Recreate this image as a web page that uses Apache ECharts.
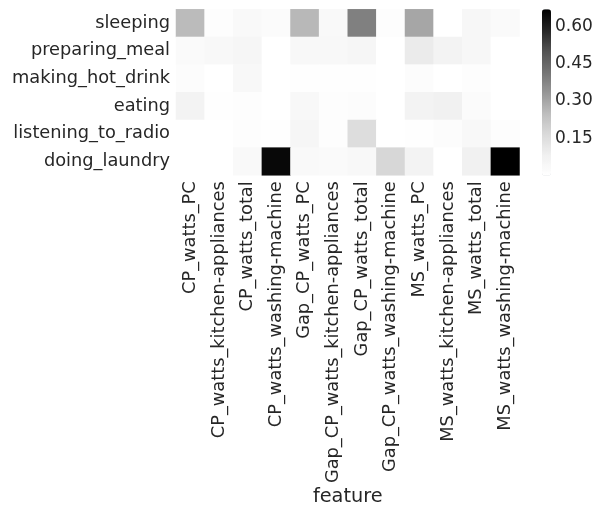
<!DOCTYPE html>
<html>
<head>
<meta charset="utf-8">
<script src="https://cdn.jsdelivr.net/npm/echarts@6/dist/echarts.min.js"></script>
<style>
  html, body { margin: 0; padding: 0; background: #ffffff; }
  #chart { width: 597px; height: 507px; }
</style>
</head>
<body>
<div id="chart"></div>
<script>
// Activities (rows, top to bottom) and sensor features (columns, left to right)
const activities = ['sleeping', 'preparing_meal', 'making_hot_drink', 'eating', 'listening_to_radio', 'doing_laundry'];
const features = [
  'CP_watts_PC', 'CP_watts_kitchen-appliances', 'CP_watts_total', 'CP_watts_washing-machine',
  'Gap_CP_watts_PC', 'Gap_CP_watts_kitchen-appliances', 'Gap_CP_watts_total', 'Gap_CP_watts_washing-machine',
  'MS_watts_PC', 'MS_watts_kitchen-appliances', 'MS_watts_total', 'MS_watts_washing-machine'
];

// One row of scores per activity, in feature order
const sleeping         = [0.255, 0.011, 0.034, 0.022, 0.261, 0.034, 0.387, 0.011, 0.300, 0.000, 0.045, 0.028];
const preparingMeal    = [0.028, 0.039, 0.050, 0.000, 0.039, 0.039, 0.050, 0.000, 0.102, 0.067, 0.045, 0.000];
const makingHotDrink   = [0.017, 0.000, 0.039, 0.000, 0.006, 0.006, 0.006, 0.000, 0.017, 0.000, 0.011, 0.000];
const eating           = [0.067, 0.006, 0.011, 0.000, 0.039, 0.011, 0.017, 0.000, 0.067, 0.078, 0.022, 0.000];
const listeningToRadio = [0.000, 0.000, 0.011, 0.006, 0.050, 0.011, 0.152, 0.000, 0.006, 0.017, 0.039, 0.011];
const doingLaundry     = [0.000, 0.000, 0.034, 0.650, 0.034, 0.028, 0.039, 0.173, 0.067, 0.000, 0.078, 0.668];

const rows = [sleeping, preparingMeal, makingHotDrink, eating, listeningToRadio, doingLaundry];

// Colour scale range and colourbar ticks
const scaleMin = 0;
const scaleMax = 0.668;
const barTicks = [0.15, 0.30, 0.45, 0.60];
const greys = ['#ffffff', '#f0f0f0', '#d9d9d9', '#bdbdbd', '#969696', '#737373', '#525252', '#252525', '#000000'];

const cells = [];
rows.forEach((vals, r) => {
  vals.forEach((v, c) => cells.push([c, r, v]));
});

const textColor = '#262626';
const font = 'DejaVu Sans';

const chart = echarts.init(document.getElementById('chart'), null, { renderer: 'canvas' });

chart.setOption({
  backgroundColor: '#ffffff',
  animation: false,
  grid: [
    { left: 176, top: 9.3, width: 343.5, height: 166.4, containLabel: false },
    { left: 542, top: 9.3, width: 9, height: 166.4, containLabel: false }
  ],
  xAxis: [
    {
      type: 'category',
      gridIndex: 0,
      data: features,
      position: 'bottom',
      axisLine: { show: false },
      axisTick: { show: false },
      splitLine: { show: false },
      axisLabel: {
        interval: 0,
        rotate: 90,
        margin: 6,
        color: textColor,
        fontFamily: font,
        fontSize: 17.8
      },
      name: 'feature',
      nameLocation: 'middle',
      nameGap: 311,
      nameTextStyle: { color: textColor, fontFamily: font, fontSize: 19.3 }
    },
    {
      type: 'category',
      gridIndex: 1,
      data: [''],
      show: false
    }
  ],
  yAxis: [
    {
      type: 'category',
      gridIndex: 0,
      data: activities,
      inverse: true,
      axisLine: { show: false },
      axisTick: { show: false },
      splitLine: { show: false },
      axisLabel: {
        interval: 0,
        margin: 6,
        color: textColor,
        fontFamily: font,
        fontSize: 17.8
      }
    },
    {
      type: 'value',
      gridIndex: 1,
      position: 'right',
      min: scaleMin,
      max: scaleMax,
      interval: 0.15,
      axisLine: { show: false },
      axisTick: { show: false },
      splitLine: { show: false },
      axisLabel: {
        margin: 4,
        color: textColor,
        fontFamily: font,
        fontSize: 17,
        showMinLabel: false,
        showMaxLabel: false,
        formatter: v => (barTicks.some(t => Math.abs(t - v) < 1e-6) ? v.toFixed(2) : '')
      }
    }
  ],
  visualMap: {
    type: 'continuous',
    min: scaleMin,
    max: scaleMax,
    seriesIndex: 0,
    calculable: false,
    hoverLink: false,
    orient: 'vertical',
    left: 542,
    top: 9.3,
    itemWidth: 9,
    itemHeight: 166.4,
    padding: 0,
    text: null,
    showLabel: false,
    inRange: { color: greys }
  },
  series: [
    {
      type: 'heatmap',
      xAxisIndex: 0,
      yAxisIndex: 0,
      data: cells,
      itemStyle: { borderWidth: 0 },
      emphasis: { disabled: true }
    }
  ]
});
</script>
</body>
</html>
